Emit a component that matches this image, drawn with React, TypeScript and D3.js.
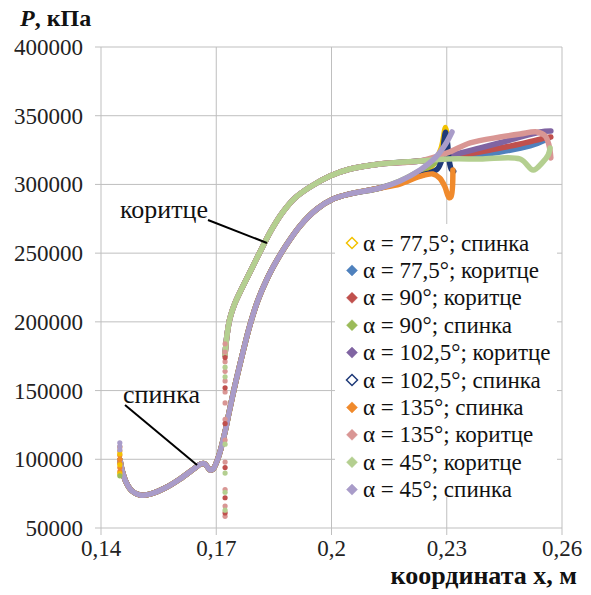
import React from "react";
import * as d3 from "d3";

type Pt = [number, number];

// Blade profile pressure, x in metres, P in kPa.
// Suction side (спинка): part shared by every angle
const suctionCommon: Pt[] = [
  [0.14495, 99500], [0.14547, 92200], [0.14651, 83500], [0.14807, 76900],
  [0.15015, 74000], [0.15275, 74700], [0.15666, 79100], [0.16056, 85700],
  [0.16447, 93700], [0.16603, 96600], [0.16707, 96600], [0.16837, 92200],
  [0.16915, 92900], [0.1702, 98800], [0.17098, 105300], [0.17228, 119900],
  [0.17358, 137300], [0.17514, 157000], [0.17696, 178100], [0.17878, 197700],
  [0.18087, 215900], [0.18321, 231200], [0.18555, 243600], [0.1879, 254500],
  [0.1918, 269800], [0.19622, 282100], [0.20039, 289400], [0.20481, 293100],
  [0.21262, 297400],
];

// Pressure side (коритце): part shared by every angle
const pressureCommon: Pt[] = [
  [0.17228, 175900], [0.1728, 190400], [0.17358, 202800], [0.17488, 213700],
  [0.1767, 224600], [0.17931, 239200], [0.18191, 253800], [0.18451, 267600],
  [0.18737, 280000], [0.1905, 290100], [0.1944, 298100], [0.19961, 306100],
  [0.20481, 311200], [0.21262, 314900], [0.22304, 317100],
];

// Trailing-edge parts per series
const tail775Spinka: Pt[] = [
  [0.2178, 302000], [0.223, 309500], [0.226, 313000], [0.2285, 326000],
  [0.2297, 341500], [0.2302, 334000],
];
const tail775Koritse: Pt[] = [
  [0.2301, 318800], [0.2439, 323600], [0.2517, 328000], [0.2556, 332300],
  [0.2566, 334000],
];
const tail90Koritse: Pt[] = [
  [0.2301, 319500], [0.2413, 325100], [0.2491, 329400], [0.2556, 333800],
  [0.2571, 334500],
];
const tail90Spinka: Pt[] = [
  [0.2178, 302500], [0.223, 310000], [0.227, 316000], [0.2301, 330000],
];
const tail1025Koritse: Pt[] = [
  [0.2301, 320500], [0.2387, 326500], [0.2465, 332300], [0.2543, 338200],
  [0.2571, 338900],
];
const tail1025Spinka: Pt[] = [
  [0.2178, 301500], [0.223, 306500], [0.2256, 308500], [0.2275, 311000],
  [0.2287, 318000], [0.2293, 332000], [0.2297, 338000], [0.2302, 330000],
  [0.2306, 318000], [0.2312, 311000], [0.2318, 309500],
];
const tail135Spinka: Pt[] = [
  [0.2178, 300300], [0.223, 305800], [0.2264, 307600], [0.2282, 304500],
  [0.2295, 298400], [0.2306, 290400], [0.2311, 291100], [0.2316, 310500],
];
const tail135Koritse: Pt[] = [
  [0.2301, 322900], [0.2361, 330200], [0.2439, 334500], [0.2491, 336700],
  [0.2535, 338200], [0.2556, 335300], [0.2566, 328700], [0.2571, 319300],
];
const tail45Koritse: Pt[] = [
  [0.2301, 318500], [0.2387, 318500], [0.2491, 318500], [0.2525, 310500],
  [0.2548, 315600], [0.2564, 321400], [0.2569, 326500],
];
const tail45Spinka: Pt[] = [
  [0.21783, 302500], [0.22304, 310500], [0.22694, 319200], [0.22954, 328700],
  [0.23137, 338200],
];

// Scattered leading-edge points (P values at the edge coordinate)
const suctionEdgeX = 0.1449;
const pressureEdgeX = 0.1723;
const edgeDots: { series: number; x: number; p: number[] }[] = [
  { series: 6, x: suctionEdgeX, p: [109000, 106000, 103000, 100000, 97000, 94000, 91000] },
  { series: 0, x: suctionEdgeX, p: [104000, 96000, 89500] },
  { series: 9, x: suctionEdgeX, p: [112000, 109500, 107000] },
  { series: 3, x: suctionEdgeX, p: [88000] },
  { series: 7, x: pressureEdgeX, p: [184000, 178000, 171000, 164000, 157000, 149000, 141000, 129000, 114000, 98000, 78000, 66000, 58500] },
  { series: 2, x: pressureEdgeX, p: [174000, 152000, 126000, 94000, 72000, 61000] },
  { series: 8, x: pressureEdgeX, p: [167000, 160000, 111000, 90000, 76000, 63000] },
];

const seriesNames = [
  "α = 77,5°; спинка",
  "α = 77,5°; коритце",
  "α = 90°; коритце",
  "α = 90°; спинка",
  "α = 102,5°; коритце",
  "α = 102,5°; спинка",
  "α = 135°; спинка",
  "α = 135°; коритце",
  "α = 45°; коритце",
  "α = 45°; спинка",
];
const seriesColors = [
  "#f2c200", "#4f81bd", "#c0504d", "#9bbb59", "#8064a2",
  "#1f3a78", "#f08a2c", "#d99694", "#b4cf90", "#a99cc9",
];
const seriesHollow = [true, false, false, false, false, true, false, false, false, false];
const seriesData: Pt[][] = [
  [...suctionCommon, ...tail775Spinka],
  [...pressureCommon, ...tail775Koritse],
  [...pressureCommon, ...tail90Koritse],
  [...suctionCommon, ...tail90Spinka],
  [...pressureCommon, ...tail1025Koritse],
  [...suctionCommon, ...tail1025Spinka],
  [...suctionCommon, ...tail135Spinka],
  [...pressureCommon, ...tail135Koritse],
  [...pressureCommon, ...tail45Koritse],
  [...suctionCommon, ...tail45Spinka],
];

const xTicks = [0.14, 0.17, 0.2, 0.23, 0.26];
const yTicks = [50000, 100000, 150000, 200000, 250000, 300000, 350000, 400000];

// Callout labels: tip on the curve in data units
const callouts = [
  { text: "коритце", tip: [0.1832, 257400] as Pt, tx: 120, ty: 218, lx: 208, ly: 220 },
  { text: "спинка", tip: [0.165, 95800] as Pt, tx: 123, ty: 403, lx: 125, ly: 405 },
];

const W = 591;
const H = 595;
const font = '"Liberation Serif", "Times New Roman", "DejaVu Serif", serif';

export default function App() {
  const x = d3.scaleLinear().domain([0.14, 0.26]).range([101, 562]);
  const y = d3.scaleLinear().domain([50000, 400000]).range([528, 47]);
  const line = d3
    .line<Pt>()
    .x((d) => x(d[0]))
    .y((d) => y(d[1]))
    .curve(d3.curveCatmullRom.alpha(0.5));

  const fmtX = (v: number) => String(+v.toFixed(2)).replace(".", ",");
  const grid = "#bfbfbf";

  const legendX = 335;
  const legendY = 224;
  const rowH = 27.4;

  const diamond = (cx: number, cy: number, r: number) =>
    `M${cx},${cy - r}L${cx + r},${cy}L${cx},${cy + r}L${cx - r},${cy}Z`;

  const ts = { fontFamily: font };

  return (
    <svg
      width={W}
      height={H}
      style={{ position: "absolute", left: 0, top: 0, background: "#fff", fontFamily: font }}
    >
      <rect width={W} height={H} fill="#fff" />
      {/* grid */}
      {yTicks.map((t) => (
        <g key={"y" + t}>
          <line x1={95} x2={562} y1={y(t)} y2={y(t)} stroke={grid} strokeWidth={1} />
          <text x={83} y={y(t) + 8} textAnchor="end" fontSize={23} fill="#222" style={ts}>
            {t}
          </text>
        </g>
      ))}
      {xTicks.map((t) => (
        <g key={"x" + t}>
          <line x1={x(t)} x2={x(t)} y1={47} y2={535} stroke={grid} strokeWidth={1} />
          <text x={x(t)} y={556} textAnchor="middle" fontSize={23} fill="#222" style={ts}>
            {fmtX(t)}
          </text>
        </g>
      ))}

      {/* series */}
      {seriesData.map((d, i) => (
        <path
          key={"s" + i}
          d={line(d) || ""}
          fill="none"
          stroke={seriesColors[i]}
          strokeWidth={5.5}
          strokeLinejoin="round"
          strokeLinecap="round"
        />
      ))}
      {edgeDots.map((g, gi) =>
        g.p.map((p, k) => (
          <circle
            key={`e${gi}-${k}`}
            cx={x(g.x)}
            cy={y(p)}
            r={2.6}
            fill={seriesColors[g.series]}
          />
        ))
      )}

      {/* callouts */}
      {callouts.map((c) => (
        <g key={c.text}>
          <text x={c.tx} y={c.ty} fontSize={26} fill="#111" style={ts}>
            {c.text}
          </text>
          <line
            x1={c.lx}
            y1={c.ly}
            x2={x(c.tip[0])}
            y2={y(c.tip[1])}
            stroke="#000"
            strokeWidth={2}
          />
        </g>
      ))}

      {/* legend */}
      <rect x={legendX} y={legendY} width={222} height={273} fill="#fff" />
      {seriesNames.map((n, i) => {
        const cy = legendY + 19 + i * rowH;
        return (
          <g key={"l" + i}>
            <path
              d={diamond(352, cy, 5.5)}
              fill={seriesHollow[i] ? "#fff" : seriesColors[i]}
              stroke={seriesColors[i]}
              strokeWidth={seriesHollow[i] ? 1.5 : 0.5}
            />
            <text x={363} y={cy + 7.5} fontSize={23} fill="#111" style={ts}>
              {n}
            </text>
          </g>
        );
      })}

      {/* axis titles */}
      <text x={20} y={26} fontSize={24} fontWeight="bold" fill="#111" style={ts}>
        <tspan fontStyle="italic">P</tspan>, кПа
      </text>
      <text x={577} y={584} textAnchor="end" fontSize={26} fontWeight="bold" fill="#111" style={ts}>
        координата х, м
      </text>
    </svg>
  );
}
